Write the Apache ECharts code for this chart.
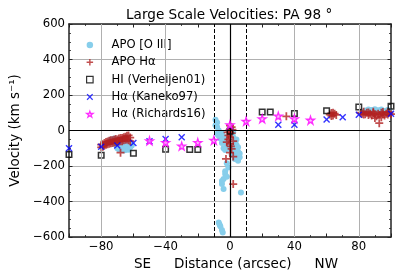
<!DOCTYPE html>
<html>
<head>
<meta charset="utf-8">
<script src="https://cdn.jsdelivr.net/npm/echarts@6/dist/echarts.min.js"></script>
<style>html,body{margin:0;padding:0;background:#fff}#c{width:398px;height:277px}</style>
</head>
<body>
<div id="c"></div>
<script>
// ---- data (distance arcsec, velocity km/s) ----
const oiiiApo = [
  [-74,-50],[-73,-60],[-72,-45],[-71,-55],[-70,-70],[-69,-50],[-68,-80],[-67,-95],[-66,-100],[-65,-110],
  [-66,-85],[-64,-105],[-63,-95],[-62,-80],[-64,-70],[-68,-60],[-70,-90],[-67,-65],[-63,-75],[-65,-90],[-69,-105],
  [-71,-80],[-72,-70],[-66,-112],[-63,-108],[-62,-95],[-61,-85],[-67,-108],[-70,-100],
  [-9,60],[-8,45],[-9,30],[-8,20],[-8,-20],[-7,0],[-6,-28],[-5,-15],[-4,-57],[-3,-40],[-2,-85],[-1,-70],[0,-104],
  [1,-90],[1.5,-28],[2,-123],[3,-66],[3,-100],[4,-141],[5,-170],[6,-151],[5,-120],[4,-80],[2,-10],[0,10],[-4,-100],
  [-6,-45],[-5,-70],[-3,-110],[4,-50],[5,-95],[6,-130],[3,-160],[1,-135],[-7,-30],[2,-40],
  [-1,-208],[-2,-185],[-3,-245],[-4,-273],[-5,-302],[-4,-330],[-3,-230],[-2,-260],[-5,-285],[6.8,-349],
  [-7,-519],[-6,-540],[-5,-560],[-4.5,-575],[-6.5,-530],
  [84,112],[86,118],[88,115],[90,120],[92,114],[94,118],[96,110],[98,115],[99,108],[87,108]
];
const haApo = [
  [-80,-95],[-80,-80],[-79,-92],[-79,-78],[-78,-85],[-78,-70],[-77,-80],[-77,-65],[-76,-78],[-76,-62],
  [-75,-75],[-75,-58],[-74,-72],[-74,-55],[-73,-70],[-73,-55],[-72,-68],[-72,-52],[-71,-65],[-71,-48],
  [-70,-65],[-70,-50],[-69,-62],[-69,-45],[-68,-60],[-68,-42],[-67,-60],[-67,-42],[-66,-55],[-66,-38],
  [-65,-52],[-65,-35],[-64,-50],[-64,-30],[-63,-55],[-63,-28],[-62,-60],[-62,-40],[-68,-125],
  [1,19],[0,28],[-0.5,0],[0,-38],[0,-75],[-2,-66],[1,-104],[-1,-28],[-2.5,-160],[2,-147],[2,-302],
  [1,-15],[-1,-50],[0.5,-90],[2,-60],[-1.5,-10],[1.5,5],[0,-125],
  [35,80],
  [62,90],[63,98],[64,85],[65,95],[66,88],[64,100],[63,82],
  [81,100],[82,95],[83,90],[84,92],[85,100],[86,88],[87,95],[88,85],[89,98],[90,92],[91,80],[92,95],
  [93,88],[94,100],[95,90],[96,85],[97,95],[98,90],[99,100],[100,92],[90,70],[94,75],[92.7,41],
  [83,105],[86,102],[89,106],[95,104],[98,103]
];
const hiVerheijen = [
  [-100,-135],[-80,-140],[-60,-128],[-40,-106],[-25,-107],[-20,-107],[0,-4],
  [20,104],[25,104],[40,96],[60,111],[80,132],[100,136]
];
const haKaneko = [
  [-100,-100],[-80,-91],[-70,-85],[-60,-70],[-50,-60],[-40,-48],[-30,-38],
  [30,32],[40,32],[60,62],[70,75],[80,89],[100,94]
];
const haRichards = [
  [-50,-58],[-40,-68],[-30,-88],[-20,-68],[-10,-55],[0,32],[10,52],[20,66],[30,81],[40,66],[50,58]
];
const seriesNames = ['APO [O III]','APO H\u03b1','HI (Verheijen01)','H\u03b1 (Kaneko97)','H\u03b1 (Richards16)'];
const gridLinesX = [-80,-40,40,80];
const dashedLinesX = [-10,10];
const solidLinesX = [0];
const solidLinesY = [0];

const FONT = 'DejaVu Sans';
const plusPath = 'path://M3.9,0H6.1V3.9H10V6.1H6.1V10H3.9V6.1H0V3.9H3.9Z';
const xPath = 'path://M1.4,0L5,3.6L8.6,0L10,1.4L6.4,5L10,8.6L8.6,10L5,6.4L1.4,10L0,8.6L3.6,5L0,1.4Z';
const starPath = 'path://M5,0L6.18,3.62L10,3.62L6.91,5.86L8.09,9.51L5,7.27L1.91,9.51L3.09,5.86L0,3.62L3.82,3.62Z';

const axisLineStyle = {color:'#222', width:1.5};
function xAx(pos, showLabel){
  return {
    type:'value', position:pos, min:-100, max:100, interval:20,
    axisLine:{show:true, onZero:false, lineStyle:axisLineStyle},
    axisTick:{show:true, inside:true, length:3.5, lineStyle:{color:'#222', width:1}},
    minorTick:{show:true, splitNumber:2, length:2, lineStyle:{color:'#222', width:0.8}},
    axisLabel:{show:showLabel, margin:4, fontFamily:FONT, fontSize:11.7, color:'#000',
      formatter: v => (v % 40 === 0 ? (v < 0 ? '\u2212' + (-v) : String(v)) : '')},
    splitLine:{show:false}
  };
}
function yAx(pos, showLabel){
  return {
    type:'value', position:pos, min:-600, max:600, interval:200,
    axisLine:{show:true, onZero:false, lineStyle:axisLineStyle},
    axisTick:{show:true, inside:true, length:3.5, lineStyle:{color:'#222', width:1}},
    minorTick:{show:true, splitNumber:4, length:2, lineStyle:{color:'#222', width:0.8}},
    axisLabel:{show:showLabel, margin:4, fontFamily:FONT, fontSize:11.7, color:'#000',
      formatter: v => (v < 0 ? '\u2212' + (-v) : String(v))},
    splitLine:{show:showLabel, lineStyle:{color:'#b0b0b0', width:1}}
  };
}

const xA = [xAx('bottom', true), xAx('top', false)];
xA[0].name = '{a|SE}{g|}{a|Distance (arcsec)}{g|}{a|NW}';
xA[0].nameLocation = 'middle';
xA[0].nameGap = 19;
xA[0].nameTextStyle = {fontFamily:FONT, fontSize:13.5, color:'#000', padding:[0,0,0,12],
  rich:{a:{fontFamily:FONT, fontSize:13.5, color:'#000'}, g:{width:23}}};
const yA = [yAx('left', true), yAx('right', false)];
yA[0].name = 'Velocity (km s\u207b\u00b9)';
yA[0].nameLocation = 'middle';
yA[0].nameGap = 40;
yA[0].nameTextStyle = {fontFamily:FONT, fontSize:13.5, color:'#000'};

const option = {
  animation:false,
  backgroundColor:'#fff',
  title:{text:'Large Scale Velocities: PA 98 \u00b0', left:121, top:3,
    textStyle:{fontFamily:FONT, fontSize:13.6, fontWeight:'normal', color:'#000'}},
  grid:{left:62, right:7, top:24, bottom:40, containLabel:false},
  legend:{orient:'vertical', left:81, top:33, itemWidth:6.5, itemHeight:6.5, itemGap:3.3,
    data:seriesNames,
    itemStyle:{borderWidth:1.2},
    textStyle:{fontFamily:FONT, fontSize:11.6, color:'#000', lineHeight:14, padding:[0,0,0,13.5]}},
  xAxis:xA,
  yAxis:yA,
  series:[
    {name:'grid', type:'scatter', data:[], z:1, silent:true,
      markLine:{silent:true, symbol:'none', label:{show:false},
        lineStyle:{color:'#b0b0b0', width:1, type:'solid'},
        data: gridLinesX.map(v => ({xAxis:v}))}},
    {name:seriesNames[0], type:'scatter', data:oiiiApo, symbol:'circle', symbolSize:6, z:2,
      itemStyle:{color:'#87ceeb', opacity:1}},
    {name:seriesNames[1], type:'scatter', data:haApo, symbol:plusPath, symbolSize:8, z:3,
      itemStyle:{color:'#b22222'}},
    {name:seriesNames[2], type:'scatter', data:hiVerheijen, symbol:'rect', symbolSize:5.5, z:4,
      itemStyle:{color:'rgba(255,255,255,0)', borderColor:'#000', borderWidth:1.5}},
    {name:seriesNames[3], type:'scatter', data:haKaneko, symbol:xPath, symbolSize:7, z:5,
      itemStyle:{color:'#0000ff'}},
    {name:seriesNames[4], type:'scatter', data:haRichards, symbol:starPath, symbolSize:8, z:6,
      itemStyle:{color:'#ffa8ff', borderColor:'#ff00ff', borderWidth:1.3}},
    {name:'ref', type:'scatter', data:[], z:7, silent:true,
      markLine:{silent:true, symbol:'none', label:{show:false},
        data: [
          ...solidLinesX.map(v => ({xAxis:v, lineStyle:{color:'#000', width:1.2, type:'solid'}})),
          ...solidLinesY.map(v => ({yAxis:v, lineStyle:{color:'#000', width:1.2, type:'solid'}})),
          ...dashedLinesX.map(v => ({xAxis:v, lineStyle:{color:'#000', width:1, type:[4,2]}}))
        ]}}
  ]
};
const chart = echarts.init(document.getElementById('c'), null, {renderer:'canvas'});
chart.setOption(option);
</script>
</body>
</html>
